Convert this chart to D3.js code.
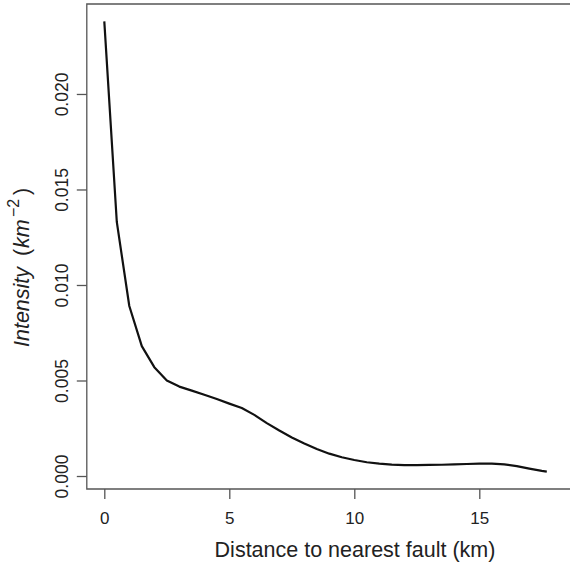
<!DOCTYPE html>
<html>
<head>
<meta charset="utf-8">
<script src="https://cdn.jsdelivr.net/npm/d3@7"></script>
<style>
  html, body { margin: 0; padding: 0; background: #fff; }
  svg { display: block; }
  text { font-family: "Liberation Sans", Arial, Helvetica, sans-serif; fill: #222; }
</style>
</head>
<body>
<svg id="chart" width="570" height="562"></svg>
<script>
// Distance to nearest fault (km)
const distance = [0, 0.5, 1, 1.5, 2, 2.5, 3, 3.5, 4, 4.5, 5, 5.5, 6, 6.5, 7, 7.5, 8, 8.5, 9, 9.5,
  10, 10.5, 11, 11.5, 12, 12.5, 13, 13.5, 14, 14.5, 15, 15.5, 16, 16.5, 17, 17.5, 17.7];
// Intensity (km^-2)
const intensity = [0.0238, 0.0133, 0.0089, 0.0068, 0.0057, 0.0050, 0.00468, 0.00447, 0.00425, 0.00403,
  0.00379, 0.00356, 0.00320, 0.00277, 0.00238, 0.00202, 0.00170, 0.00141, 0.00117, 0.00098,
  0.00084, 0.00072, 0.00065, 0.00060, 0.00057, 0.00057, 0.00058, 0.00059, 0.00061, 0.00063,
  0.00065, 0.00065, 0.00061, 0.00052, 0.00039, 0.00027, 0.00023];
const xTicks = [0, 5, 10, 15];
const yTicks = [0.000, 0.005, 0.010, 0.015, 0.020];
const xTickLabels = ["0", "5", "10", "15"];
const yTickLabels = ["0.000", "0.005", "0.010", "0.015", "0.020"];
const xTitle = "Distance to nearest fault (km)";

const data = distance.map((d, i) => ({ x: d, y: intensity[i] }));

const svg = d3.select("#chart");
const x = d3.scaleLinear().domain([-0.7, 18.72]).range([86.8, 572.3]);
const y = d3.scaleLinear().domain([-0.00068, 0.02471]).range([489, 4]);

const axisColor = "#555";

// Box (right edge falls outside the picture)
svg.append("path")
  .attr("d", `M${x.range()[1] + 5},${y.range()[1]} H${x.range()[0]} V${y.range()[0]} H${x.range()[1] + 5}`)
  .attr("fill", "none").attr("stroke", axisColor).attr("stroke-width", 1.3);

// X axis
const xAxis = d3.axisBottom(x).tickValues(xTicks).tickSize(10).tickPadding(13)
  .tickFormat((d, i) => xTickLabels[i]);
const gx = svg.append("g").attr("transform", `translate(0,${y.range()[0]})`).call(xAxis);
gx.select(".domain").remove();
gx.selectAll(".tick line").attr("stroke", axisColor).attr("stroke-width", 1.3);
gx.selectAll(".tick text").attr("font-size", 17).attr("fill", "#222")
  .attr("font-family", "Liberation Sans, Arial, sans-serif");

// Y axis
const yAxis = d3.axisLeft(y).tickValues(yTicks).tickSize(10).tickPadding(0)
  .tickFormat((d, i) => yTickLabels[i]);
const gy = svg.append("g").attr("transform", `translate(${x.range()[0]},0)`).call(yAxis);
gy.select(".domain").remove();
gy.selectAll(".tick line").attr("stroke", axisColor).attr("stroke-width", 1.3);
gy.selectAll(".tick text")
  .attr("font-size", 17.5).attr("fill", "#222")
  .attr("font-family", "Liberation Sans, Arial, sans-serif")
  .attr("x", null).attr("dy", null)
  .attr("text-anchor", "middle")
  .attr("transform", "translate(-19,0) rotate(-90)");

// Curve
const line = d3.line().x(d => x(d.x)).y(d => y(d.y)).curve(d3.curveLinear);
svg.append("path").datum(data)
  .attr("d", line)
  .attr("fill", "none").attr("stroke", "#111").attr("stroke-width", 2.2)
  .attr("stroke-linejoin", "round").attr("stroke-linecap", "butt");

// X title
svg.append("text")
  .attr("x", 355).attr("y", 556.5)
  .attr("text-anchor", "middle").attr("font-size", 21.5)
  .text(xTitle);

// Y title (plotmath-like spacing)
const yt = svg.append("text")
  .attr("transform", "translate(29,347) rotate(-90)")
  .attr("text-anchor", "start").attr("font-size", 21.5);
yt.append("tspan").attr("x", 0).attr("y", 0).attr("font-style", "italic").text("Intensity");
yt.append("tspan").attr("x", 91).attr("y", 0).text("(");
yt.append("tspan").attr("x", 99).attr("y", 0).attr("font-style", "italic").text("km");
yt.append("tspan").attr("x", 130).attr("y", -10).attr("font-size", 16).text("\u22122");
yt.append("tspan").attr("x", 152).attr("y", 0).text(")");
</script>
</body>
</html>
